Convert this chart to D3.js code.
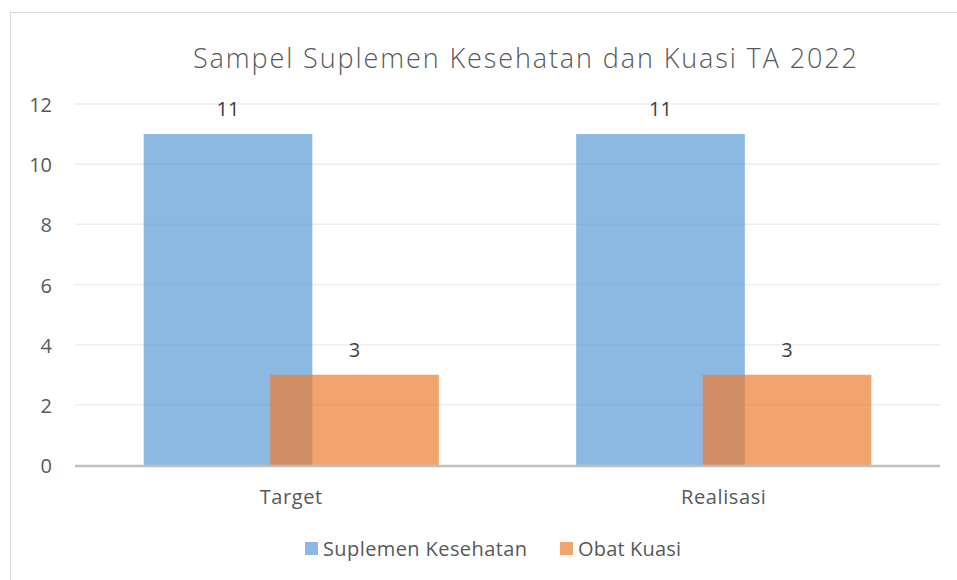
<!DOCTYPE html>
<html>
<head>
<meta charset="utf-8">
<script src="https://cdn.jsdelivr.net/npm/d3@7"></script>
<style>
  body { margin: 0; background: #fff; }
  text { font-family: "Open Sans", "Noto Sans", sans-serif; fill: #595959; }
</style>
</head>
<body>
<svg id="canvas" width="957" height="580"></svg>
<script>
let categories = ['Target', 'Realisasi']
let seriesNames = ['Suplemen Kesehatan', 'Obat Kuasi']
let suplemen = [11, 11]
let obatKuasi = [3, 3]
let yTicks = [0, 2, 4, 6, 8, 10, 12]
let colors = ['#5B9BD5', '#ED7D31']

let canvas = d3.select('#canvas')

// chart frame (runs off the picture at right and bottom)
canvas.append('rect')
    .attr('x', 10.5).attr('y', 12.5)
    .attr('width', 1100).attr('height', 700)
    .attr('fill', 'none').attr('stroke', '#d9d9d9')

let plotLeft = 75, plotRight = 940, plotTop = 104, plotBottom = 465

let x = d3.scaleBand().domain(categories).range([plotLeft, plotRight])
let y = d3.scaleLinear().domain([0, 12]).range([plotBottom, plotTop])

// bars are 169px wide with 42px overlap inside each band
let barW = x.bandwidth() * 0.39
let step = barW * 0.75

canvas.append('g').selectAll('line')
    .data(yTicks.filter(t => t > 0))
    .enter().append('line')
    .attr('x1', plotLeft).attr('x2', plotRight)
    .attr('y1', t => y(t)).attr('y2', t => y(t))
    .attr('stroke', '#eeeeee').attr('stroke-width', 1.5)

canvas.append('g').selectAll('text')
    .data(yTicks)
    .enter().append('text')
    .attr('x', 52).attr('y', t => y(t) + 1)
    .attr('dy', '0.35em')
    .attr('text-anchor', 'end')
    .style('font-size', '20px')
    .text(t => t)

let series = [suplemen, obatKuasi]
series.forEach((vals, si) => {
    let g = canvas.append('g')
    let cx = (cat) => x(cat) + x.bandwidth() / 2 - (barW + step) / 2 + si * step
    g.selectAll('rect')
        .data(categories)
        .enter().append('rect')
        .attr('x', (c) => cx(c))
        .attr('y', (c, i) => y(vals[i]))
        .attr('width', barW)
        .attr('height', (c, i) => y(0) - y(vals[i]))
        .attr('fill', colors[si])
        .attr('fill-opacity', 0.7)
    g.selectAll('text')
        .data(categories)
        .enter().append('text')
        .attr('x', (c) => cx(c) + barW / 2)
        .attr('y', (c, i) => y(vals[i]) - 25)
        .attr('dy', '0.35em')
        .attr('text-anchor', 'middle')
        .style('font-size', '20px')
        .style('fill', '#404040')
        .text((c, i) => vals[i])
})

// zero axis line
canvas.append('line')
    .attr('x1', plotLeft).attr('x2', plotRight)
    .attr('y1', y(0) + 1).attr('y2', y(0) + 1)
    .attr('stroke', '#bfbfbf').attr('stroke-width', 2.5)

canvas.append('g').selectAll('text')
    .data(categories)
    .enter().append('text')
    .attr('x', c => x(c) + x.bandwidth() / 2)
    .attr('y', 497).attr('dy', '0.35em')
    .attr('text-anchor', 'middle')
    .style('font-size', '20px')
    .style('letter-spacing', '0.6px')
    .text(c => c)

canvas.append('text')
    .attr('x', 525).attr('y', 59).attr('dy', '0.35em')
    .attr('text-anchor', 'middle')
    .attr('textLength', 664)
    .style('font-size', '27px')
    .style('font-weight', 300)
    .text('Sampel Suplemen Kesehatan dan Kuasi TA 2022')

// legend
let legendX = [305, 560]
let legendW = [204, 103]
seriesNames.forEach((name, i) => {
    canvas.append('rect')
        .attr('x', legendX[i]).attr('y', 542)
        .attr('width', 13).attr('height', 13)
        .attr('fill', colors[i]).attr('fill-opacity', 0.7)
    canvas.append('text')
        .attr('x', legendX[i] + 18).attr('y', 549).attr('dy', '0.35em')
        .attr('textLength', legendW[i])
        .style('font-size', '20px')
        .text(name)
})
</script>
</body>
</html>
